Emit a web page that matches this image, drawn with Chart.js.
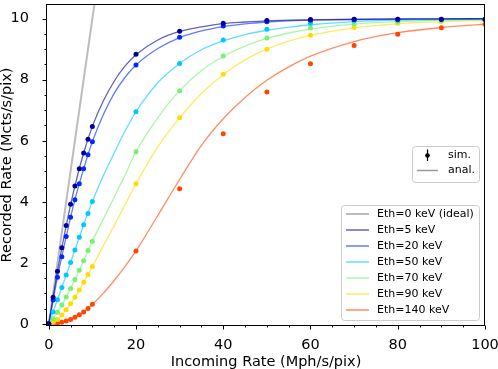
<!DOCTYPE html>
<html><head><meta charset="utf-8">
<script src="https://cdn.jsdelivr.net/npm/chart.js@4.4.1/dist/chart.umd.min.js"></script>
<style>html,body{margin:0;padding:0;background:#fff;}#wrap{width:498px;height:369px;}</style>
</head><body><div id="wrap"><canvas id="c" width="498" height="369"></canvas></div>
<script>
// ---- data ----
const simX   = [0,1,2,3,4,5,6,7,8,9,10,20,30,40,50,60,70,80,90,100];
const sim5   = [0,0.87,1.72,2.49,3.22,3.92,4.52,5.08,5.60,6.05,6.47,8.83,9.59,9.85,9.94,9.97,9.98,9.98,9.98,9.98];
const sim20  = [0,0.78,1.53,2.20,2.86,3.49,4.07,4.59,5.08,5.54,5.97,8.48,9.39,9.76,9.90,9.95,9.97,9.98,9.98,9.98];
const sim50  = [0,0.39,0.79,1.19,1.60,2.01,2.42,2.84,3.25,3.62,4.01,6.95,8.53,9.30,9.65,9.85,9.93,9.95,9.97,9.98];
const sim70  = [0,0.17,0.38,0.62,0.88,1.16,1.45,1.76,2.07,2.40,2.71,5.64,7.64,8.78,9.37,9.69,9.83,9.90,9.94,9.96];
const sim90  = [0,0.05,0.14,0.29,0.46,0.66,0.87,1.11,1.36,1.61,1.88,4.59,6.75,8.18,9.00,9.46,9.71,9.85,9.91,9.95];
const sim140 = [0,0.01,0.02,0.05,0.09,0.14,0.22,0.30,0.39,0.50,0.64,2.39,4.43,6.23,7.60,8.52,9.12,9.49,9.70,9.82];

const anaX   = [0,2,4,6,8,10,12.5,15,17.5,20,25,30,35,40,45,50,55,60,70,80,90,100];
const ana5   = [0,1.72,3.22,4.52,5.60,6.47,7.30,7.95,8.45,8.82,9.30,9.58,9.73,9.84,9.89,9.93,9.95,9.96,9.98,9.99,9.99,10];
const ana20  = [0,1.53,2.86,4.07,5.08,5.97,6.85,7.55,8.08,8.48,9.02,9.38,9.60,9.74,9.83,9.89,9.93,9.95,9.97,9.98,9.99,10];
const ana50  = [0,0.79,1.60,2.42,3.25,4.01,4.85,5.60,6.32,6.95,7.90,8.53,8.98,9.27,9.48,9.62,9.72,9.80,9.90,9.95,9.97,9.98];
const ana70  = [0,0.38,0.88,1.45,2.07,2.71,3.43,4.15,4.88,5.64,6.75,7.64,8.30,8.76,9.10,9.35,9.53,9.66,9.82,9.90,9.95,9.97];
const ana90  = [0,0.14,0.46,0.87,1.36,1.88,2.55,3.22,3.91,4.59,5.80,6.75,7.55,8.17,8.65,9.00,9.26,9.45,9.70,9.83,9.90,9.94];
const ana140 = [0,0.02,0.09,0.22,0.39,0.64,1.00,1.42,1.88,2.39,3.55,4.73,5.85,6.72,7.42,7.98,8.42,8.77,9.25,9.54,9.71,9.82];

const idealX = [0,12];
const idealY = [0,12];

const seriesLabels = ['Eth=5 keV','Eth=20 keV','Eth=50 keV','Eth=70 keV','Eth=90 keV','Eth=140 keV'];
const idealLabel = 'Eth=0 keV (ideal)';
const xTickVals = [0,20,40,60,80,100];
const yTickVals = [0,2,4,6,8,10];
const xTitle = 'Incoming Rate (Mph/s/pix)';
const yTitle = 'Recorded Rate (Mcts/s/pix)';
const simLabel = 'sim.';
const anaLabel = 'anal.';

// ---- styles ----
const rgb = [[0,0,150],[0,40,255],[0,200,255],[120,240,115],[255,220,0],[255,70,0]];
const solid = c => `rgb(${c[0]},${c[1]},${c[2]})`;
const faded = c => `rgba(${c[0]},${c[1]},${c[2]},0.62)`;
const FONT = "'DejaVu Sans', sans-serif";

const simSets = [sim5,sim20,sim50,sim70,sim90,sim140];
const anaSets = [ana5,ana20,ana50,ana70,ana90,ana140];
const toXY = (xs, ys) => xs.map((x,i)=>({x:x, y:ys[i]}));

const datasets = [];
datasets.push({type:'line', label:idealLabel, data:toXY(idealX,idealY), borderColor:'#bdbdbd',
  borderWidth:2, pointRadius:0, fill:false, order:3, clip:0});
anaSets.forEach((s,i)=>datasets.push({type:'line', label:seriesLabels[i], data:toXY(anaX,s),
  borderColor:faded(rgb[i]), borderWidth:1.3, pointRadius:0, fill:false,
  cubicInterpolationMode:'monotone', order:2}));
simSets.forEach((s,i)=>datasets.push({type:'scatter', label:seriesLabels[i]+' sim', data:toXY(simX,s),
  backgroundColor:solid(rgb[i]), borderWidth:0, pointRadius:2.5, showLine:false, order:1}));

const decor = {
  id:'decor',
  afterDraw(chart){
    const {ctx, chartArea:a, scales:{x,y}} = chart;
    ctx.save();
    ctx.strokeStyle='#000'; ctx.lineWidth=1;
    const L=Math.round(a.left)-0.5, R=Math.round(a.right)-0.5, T=Math.round(a.top)+0.5, B=Math.round(a.bottom)-0.5;
    ctx.strokeRect(L,T,R-L,B-T);
    ctx.beginPath();
    for(let v=0; v<=100; v+=5){
      const px=Math.round(x.getPixelForValue(v))+0.5;
      const len = (v%20===0)?4:2;
      ctx.moveTo(px,B); ctx.lineTo(px,B+len);
    }
    for(let k=0; k<=20; k++){
      const v=k*0.5;
      const py=Math.round(y.getPixelForValue(v))+0.5;
      const len = (k%4===0)?4:2;
      ctx.moveTo(L,py); ctx.lineTo(L-len,py);
    }
    ctx.stroke();

    function box(x0,y0,x1,y1){
      const r=3;
      ctx.beginPath();
      ctx.moveTo(x0+r,y0); ctx.lineTo(x1-r,y0); ctx.quadraticCurveTo(x1,y0,x1,y0+r);
      ctx.lineTo(x1,y1-r); ctx.quadraticCurveTo(x1,y1,x1-r,y1); ctx.lineTo(x0+r,y1);
      ctx.quadraticCurveTo(x0,y1,x0,y1-r); ctx.lineTo(x0,y0+r); ctx.quadraticCurveTo(x0,y0,x0+r,y0);
      ctx.closePath();
      ctx.fillStyle='rgba(255,255,255,0.85)'; ctx.fill();
      ctx.strokeStyle='#cccccc'; ctx.lineWidth=1; ctx.stroke();
    }
    ctx.font='11px '+FONT; ctx.textBaseline='middle'; ctx.textAlign='left';
    box(341.5,205.5,479.5,320.5);
    const lines = chart.data.datasets.filter(d=>d.type==='line');
    lines.forEach((d,i)=>{
      const yy = 214 + 16*i;
      ctx.strokeStyle=d.borderColor; ctx.lineWidth=(i===0)?2:1.5;
      ctx.beginPath(); ctx.moveTo(346,yy); ctx.lineTo(369,yy); ctx.stroke();
      ctx.fillStyle='#000'; ctx.fillText(d.label,377,yy+0.5);
    });
    box(412.5,146.5,479.5,182.5);
    ctx.strokeStyle='#000'; ctx.lineWidth=1.2;
    ctx.beginPath(); ctx.moveTo(427.5,149.5); ctx.lineTo(427.5,161); ctx.stroke();
    ctx.fillStyle='#000'; ctx.beginPath(); ctx.arc(427.5,155.5,2.3,0,Math.PI*2); ctx.fill();
    ctx.fillText(simLabel,448,155.5);
    ctx.strokeStyle='#999'; ctx.lineWidth=1.5;
    ctx.beginPath(); ctx.moveTo(417,170.5); ctx.lineTo(438,170.5); ctx.stroke();
    ctx.fillStyle='#000'; ctx.fillText(anaLabel,448,170.5);
    ctx.restore();
  }
};

new Chart(document.getElementById('c'), {
  type:'scatter',
  data:{datasets:datasets},
  options:{
    responsive:false, animation:false, devicePixelRatio:1,
    layout:{padding:{top:1,right:13,left:0,bottom:0}},
    plugins:{legend:{display:false}, tooltip:{enabled:false}, title:{display:false}},
    scales:{
      x:{type:'linear', min:-0.4, max:100,
        afterBuildTicks:s=>{ s.ticks = xTickVals.map(v=>({value:v})); },
        afterFit:s=>{ s.height=43; s.paddingLeft=0; s.paddingRight=0; },
        grid:{display:false}, border:{display:false},
        ticks:{autoSkip:false, maxRotation:0, padding:3, color:'#000', font:{family:FONT,size:14.5}, callback:v=>String(v)},
        title:{display:true, text:xTitle, color:'#000', font:{family:FONT,size:14.5,lineHeight:1}, padding:{top:0,bottom:0}}
      },
      y:{type:'linear', min:-0.07, max:10.48,
        afterBuildTicks:s=>{ s.ticks = yTickVals.map(v=>({value:v})); },
        afterFit:s=>{ s.width=47; s.paddingTop=0; s.paddingBottom=0; },
        grid:{display:false}, border:{display:false},
        ticks:{autoSkip:false, padding:10, color:'#000', font:{family:FONT,size:14.5}, callback:v=>String(v)},
        title:{display:true, text:yTitle, color:'#000', font:{family:FONT,size:14.5,lineHeight:1}, padding:{top:0,bottom:0}}
      }
    }
  },
  plugins:[decor]
});
</script></body></html>
